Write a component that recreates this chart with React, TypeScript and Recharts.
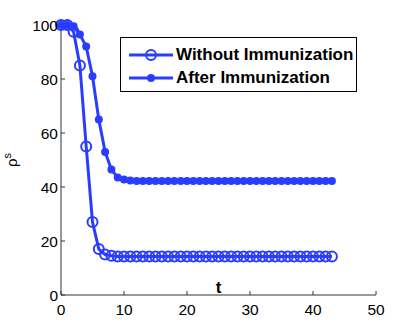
import { LineChart, Line, XAxis, YAxis, Legend } from 'recharts';

// time steps
const tValues = [
  0, 1, 2, 3, 4, 5, 6, 7, 8, 9, 10, 11, 12, 13, 14, 15, 16, 17, 18, 19, 20, 21,
  22, 23, 24, 25, 26, 27, 28, 29, 30, 31, 32, 33, 34, 35, 36, 37, 38, 39, 40, 41, 42, 43,
];

// rho^s without immunization (open circles)
const withoutImmunization = [
  100, 100, 97.5, 85, 55, 27, 17, 15, 14.5,
  14.3, 14.3, 14.3, 14.3, 14.3, 14.3, 14.3, 14.3, 14.3, 14.3,
  14.3, 14.3, 14.3, 14.3, 14.3, 14.3, 14.3, 14.3, 14.3, 14.3,
  14.3, 14.3, 14.3, 14.3, 14.3, 14.3, 14.3, 14.3, 14.3, 14.3,
  14.3, 14.3, 14.3, 14.3, 14.3,
];

// rho^s after immunization (filled dots)
const afterImmunization = [
  100, 100, 99.5, 96.5, 92, 81, 65, 53, 46.5, 43.5, 42.8, 42.4,
  42.2, 42.2, 42.2, 42.2, 42.2, 42.2, 42.2, 42.2, 42.2, 42.2,
  42.2, 42.2, 42.2, 42.2, 42.2, 42.2, 42.2, 42.2, 42.2, 42.2,
  42.2, 42.2, 42.2, 42.2, 42.2, 42.2, 42.2, 42.2, 42.2, 42.2,
  42.2, 42.2,
];

const xTicks = [0, 10, 20, 30, 40, 50];
const yTicks = [0, 20, 40, 60, 80, 100];

const seriesNames = ['Without Immunization', 'After Immunization'];

const data = tValues.map((t, i) => ({
  t,
  without: withoutImmunization[i],
  after: afterImmunization[i],
}));

const BLUE = '#2a3dff';
const AXIS = '#333333';
const FONT = '"Liberation Sans", Arial, Helvetica, sans-serif';

const LegendBox = () => (
  <div
    style={{
      width: 235,
      height: 53,
      border: '1px solid #000',
      background: '#fff',
      fontFamily: FONT,
      fontWeight: 700,
      fontSize: 17,
      color: '#000',
      position: 'relative',
    }}
  >
    {seriesNames.map((name, i) => (
      <div
        key={name}
        style={{ position: 'absolute', left: 0, top: i === 0 ? 6 : 29, height: 22, display: 'flex', alignItems: 'center' }}
      >
        <svg width={55} height={22} style={{ display: 'block' }}>
          <line x1={8} y1={11} x2={52} y2={11} stroke={BLUE} strokeWidth={3} />
          {i === 0 ? (
            <circle cx={30} cy={11} r={5} fill="none" stroke={BLUE} strokeWidth={2} />
          ) : (
            <circle cx={30} cy={11} r={4} fill={BLUE} />
          )}
        </svg>
        <span style={{ whiteSpace: 'nowrap' }}>{name}</span>
      </div>
    ))}
  </div>
);

const YLabel = () => (
  <text
    x={17}
    y={160}
    transform="rotate(-90 17 160)"
    textAnchor="middle"
    fontFamily={FONT}
    fontSize={15}
    fill="#000"
  >
    ρ
    <tspan dy={-6} fontSize={11}>
      s
    </tspan>
  </text>
);

export default function App() {
  return (
    <div style={{ position: 'absolute', left: 0, top: 0, width: 415, height: 332, background: '#fff' }}>
      <LineChart width={415} height={332} data={data} margin={{ top: 25, right: 39, left: 0, bottom: 0 }}>
        <XAxis
          dataKey="t"
          type="number"
          domain={[0, 50]}
          ticks={xTicks}
          height={37}
          stroke={AXIS}
          tickSize={-4}
          tickMargin={13}
          tick={{ fill: '#000', fontSize: 15.5, fontFamily: FONT }}
          label={{ value: 't', position: 'top', offset: 2, fontWeight: 700, fontSize: 17, fill: '#000', fontFamily: FONT }}
        />
        <YAxis
          type="number"
          domain={[0, 100]}
          ticks={yTicks}
          width={61}
          stroke={AXIS}
          tickSize={-4}
          tickMargin={7}
          tick={{ fill: '#000', fontSize: 15.5, fontFamily: FONT }}
          label={<YLabel />}
        />
        <Line
          dataKey="without"
          stroke={BLUE}
          strokeWidth={3}
          dot={{ r: 5, fill: 'none', stroke: BLUE, strokeWidth: 2 }}
          isAnimationActive={false}
        />
        <Line
          dataKey="after"
          stroke={BLUE}
          strokeWidth={3}
          dot={{ r: 4, fill: BLUE, stroke: BLUE, strokeWidth: 0 }}
          isAnimationActive={false}
        />
        <Legend
          layout="vertical"
          align="center"
          verticalAlign="middle"
          content={<LegendBox />}
          wrapperStyle={{ left: 120, top: 37, width: 'auto', height: 'auto' }}
        />
      </LineChart>
    </div>
  );
}
